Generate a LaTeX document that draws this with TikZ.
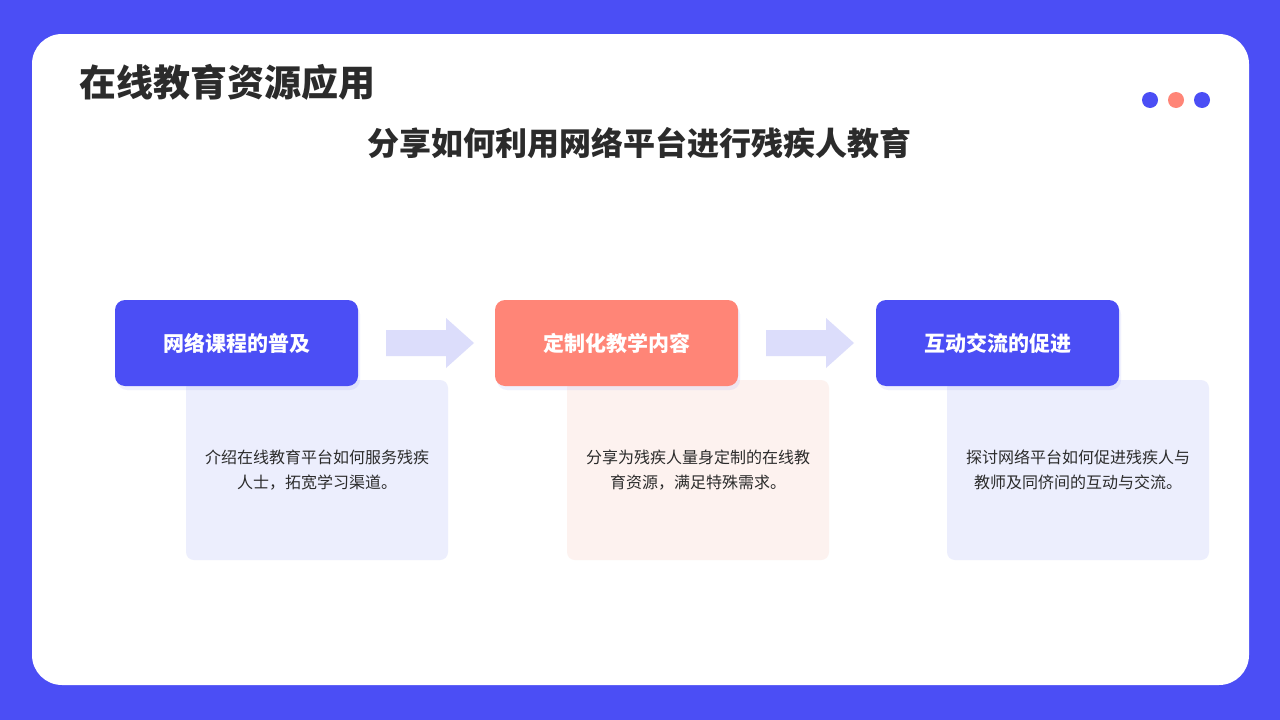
\documentclass[tikz,border=0pt]{standalone}
\usepackage{fontspec}
\setmainfont{Noto Sans CJK SC}
\usetikzlibrary{shadows,positioning}
\definecolor{mainblue}{HTML}{4B4EF5}
\definecolor{salmon}{HTML}{FF8577}
\definecolor{lightblue}{HTML}{ECEEFD}
\definecolor{lightsalmon}{HTML}{FDF2EF}
\definecolor{arrowc}{HTML}{DCDDFB}
\definecolor{textc}{HTML}{2B2B2B}
\tikzset{
    headbox/.style={rounded corners=10pt, minimum width=243pt, minimum height=86pt,
        text=white, font=\fontsize{21}{24}\selectfont\bfseries,
        drop shadow={shadow xshift=2pt, shadow yshift=-4pt, opacity=0.08, fill=mainblue}},
    bodybox/.style={rounded corners=8pt, minimum width=262pt, minimum height=180pt,
        align=center, text=textc, font=\fontsize{16}{25}\selectfont},
    flowarrow/.style={fill=arrowc},
}
\begin{document}
\begin{tikzpicture}[x=1pt,y=-1pt]
    \useasboundingbox (0,0) rectangle (1280,720);
    \fill[mainblue] (0,0) rectangle (1280,720);
    \fill[white, rounded corners=30pt] (32,34) rectangle (1249,685);
    % title and dots
    \node[anchor=west, text=textc, font=\fontsize{37}{40}\selectfont\bfseries] (title) at (76,82) {在线教育资源应用};
    \fill[mainblue] (1150,100) circle (8);
    \fill[salmon] (1176,100) circle (8);
    \fill[mainblue] (1202,100) circle (8);
    \node[text=textc, font=\fontsize{32}{36}\selectfont\bfseries] (subtitle) at (639,143) {分享如何利用网络平台进行残疾人教育};
    % body boxes
    \node[bodybox, fill=lightblue] (b1) at (317,470) {介绍在线教育平台如何服务残疾\\人士，拓宽学习渠道。};
    \node[bodybox, fill=lightsalmon] (b2) at (698,470) {分享为残疾人量身定制的在线教\\育资源，满足特殊需求。};
    \node[bodybox, fill=lightblue] (b3) at (1078,470) {探讨网络平台如何促进残疾人与\\教师及同侪间的互动与交流。};
    % headers
    \node[headbox, fill=mainblue] (h1) at (236.5,343) {网络课程的普及};
    \node[headbox, fill=salmon] (h2) at (616.5,343) {定制化教学内容};
    \node[headbox, fill=mainblue] (h3) at (997.5,343) {互动交流的促进};
    % arrows
    \foreach \x in {386,766} {
        \fill[flowarrow] (\x,330) -- (\x+60,330) -- (\x+60,318) -- (\x+88,343)
            -- (\x+60,368) -- (\x+60,356) -- (\x,356) -- cycle;
    }
\end{tikzpicture}
\end{document}
